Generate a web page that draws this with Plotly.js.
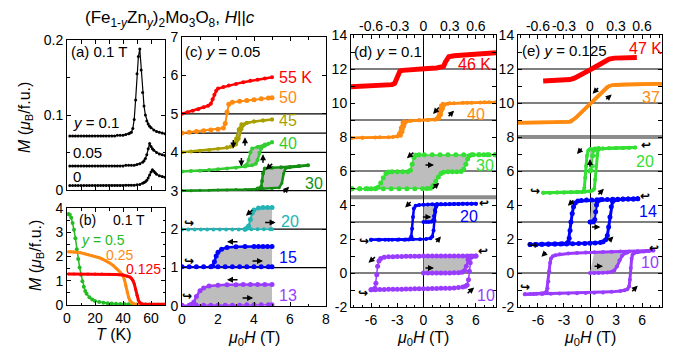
<!DOCTYPE html>
<html><head><meta charset="utf-8">
<script src="https://cdn.plot.ly/plotly-3.0.1.min.js"></script>
<style>html,body{margin:0;padding:0;background:#fff}#chart{width:684px;height:352px}</style>
</head><body><div id="chart"></div>
<script>
// ---------- panel (a): M(T) at 0.1 T ----------
const aT_y010=[2,4,6,8,10,12,14,16,18,20,22,24,26,28,30,32,34,36,38,40,42,44,45,46,47,48,49,50,51,52,53,54,55,56,57,58,59,60,62,64,66,68,70];
const aM_y010=[0.072,0.072,0.072,0.072,0.072,0.072,0.072,0.072,0.072,0.072,0.072,0.072,0.072,0.072,0.072,0.072,0.072,0.073,0.073,0.073,0.074,0.075,0.076,0.077,0.082,0.094,0.12,0.155,0.178,0.188,0.16,0.13,0.112,0.1,0.092,0.088,0.085,0.083,0.08,0.078,0.077,0.076,0.075];
const aT_y005=[2,4,6,8,10,12,14,16,18,20,22,24,26,28,30,32,34,36,38,40,42,44,46,48,50,52,54,55,56,57,58,59,60,61,62,64,66,68,70];
const aM_y005=[0.032,0.032,0.032,0.032,0.032,0.032,0.032,0.032,0.032,0.032,0.032,0.032,0.032,0.032,0.032,0.032,0.032,0.032,0.032,0.032,0.033,0.033,0.033,0.033,0.034,0.035,0.037,0.039,0.042,0.047,0.055,0.062,0.058,0.055,0.053,0.05,0.048,0.047,0.046];
const aT_y000=[2,4,6,8,10,12,14,16,18,20,22,24,26,28,30,32,34,36,38,40,42,44,46,48,50,52,54,55,56,57,58,59,60,61,62,63,64,66,68,70];
const aM_y000=[0.006,0.006,0.006,0.006,0.006,0.006,0.006,0.006,0.006,0.006,0.006,0.006,0.006,0.006,0.006,0.006,0.006,0.006,0.006,0.006,0.0065,0.0065,0.0065,0.0065,0.007,0.0075,0.009,0.01,0.011,0.013,0.016,0.02,0.024,0.027,0.025,0.023,0.021,0.019,0.018,0.017];
// ---------- panel (b): M(T) at 0.1 T ----------
const bT_y050=[1,2,3,4,5,6,7,8,9,10,11,12,13,14,16,18,20,23,26,29,32,35,38,41,44,47,50,53,56,59,62,65,68];
const bM_y050=[3.75,3.72,3.6,3.38,3.1,2.75,2.3,1.9,1.55,1.25,0.98,0.75,0.58,0.46,0.32,0.23,0.17,0.12,0.09,0.07,0.06,0.05,0.045,0.04,0.035,0.03,0.025,0.02,0.02,0.015,0.015,0.01,0.01];
const bT_y025=[1,3,5,7,10,13,15,18,20,23,25,28,30,33,35,36,37,38,39,40,41,42,43,44,45,46,47,48,50,52,55,60,65,70];
const bM_y025=[2.2,2.2,2.19,2.18,2.15,2.11,2.08,2.04,2.0,1.95,1.9,1.82,1.75,1.63,1.53,1.47,1.41,1.35,1.28,1.2,1.05,0.8,0.52,0.32,0.18,0.1,0.06,0.04,0.02,0.015,0.01,0.01,0.01,0.01];
const bT_y0125=[1,5,10,15,20,25,30,35,40,43,45,46,47,48,49,50,51,52,53,54,56,60,65,70];
const bM_y0125=[1.28,1.28,1.28,1.28,1.28,1.28,1.27,1.26,1.24,1.2,1.15,1.1,1.02,0.88,0.65,0.4,0.2,0.1,0.05,0.04,0.03,0.03,0.03,0.03];
// ---------- panel (c): y = 0.05, M(H) with offsets ----------
const c55H=[0,0.3,0.6,0.9,1.2,1.45,1.6,1.7,1.8,1.9,2.0,2.3,2.6,3.0,3.4,3.8,4.2,4.6,5.0];
const c55M=[5.0,5.04,5.08,5.12,5.17,5.21,5.26,5.38,5.5,5.6,5.66,5.7,5.74,5.78,5.82,5.86,5.89,5.92,5.95];
const c50H=[0,0.4,0.8,1.2,1.6,2.0,2.3,2.4,2.5,2.6,2.8,3.2,3.6,4.0,4.4,4.8,5.0];
const c50M=[4.5,4.52,4.54,4.56,4.58,4.6,4.63,4.75,5.05,5.25,5.3,5.33,5.35,5.37,5.39,5.41,5.42];
const c45uH=[0,0.5,1,1.5,2,2.5,2.8,3.0,3.15,3.3,3.45,3.6,4.0,4.5,5.0];
const c45uM=[4.0,4.02,4.04,4.06,4.09,4.12,4.15,4.2,4.35,4.6,4.72,4.76,4.8,4.83,4.85];
const c45dH=[5.0,4.5,4.0,3.6,3.3,3.15,3.0,2.9,2.7,2.5];
const c45dM=[4.85,4.83,4.8,4.77,4.73,4.6,4.35,4.2,4.15,4.13];
const c40uH=[0,0.5,1,1.5,2,2.5,3,3.5,3.9,4.1,4.2,4.3,4.4,4.6,4.8,5.0];
const c40uM=[3.5,3.51,3.52,3.54,3.56,3.58,3.6,3.63,3.66,3.7,3.8,3.98,4.1,4.17,4.22,4.26];
const c40dH=[5.0,4.6,4.2,3.9,3.8,3.7,3.6,3.5];
const c40dM=[4.26,4.2,4.14,4.1,4.0,3.8,3.68,3.64];
const c30uH=[0,0.5,1,1.5,2,2.5,3,3.5,4,4.5,5,5.4,5.55,5.65,5.75,6.0,6.5,7.0];
const c30uM=[3.0,3.0,3.01,3.01,3.02,3.02,3.03,3.03,3.04,3.05,3.06,3.08,3.2,3.45,3.58,3.61,3.63,3.66];
const c30dH=[7.0,6.5,6.0,5.5,5.0,4.6,4.5,4.45,4.4,4.2];
const c30dM=[3.66,3.64,3.62,3.61,3.6,3.58,3.45,3.25,3.1,3.06];
const c20uH=[0,0.35,0.7,1.05,1.4,1.75,2.1,2.45,2.8,3.15,3.5,3.85,4.2,4.55,4.9,5.0];
const c20uM=[1.99,1.99,1.99,1.99,1.99,1.99,1.99,1.99,1.99,1.99,1.99,2.0,2.0,2.0,2.0,2.0];
const c20dH=[5.0,4.75,4.5,4.25,4.0,3.9,3.8,3.7,3.6,3.5];
const c20dM=[2.56,2.56,2.56,2.55,2.5,2.42,2.25,2.08,2.02,2.0];
const c15uH=[0,0.4,0.8,1.2,1.6,2.0,2.4,2.8,3.2,3.6,4.0,4.4,4.8,5.0];
const c15uM=[1.02,1.02,1.02,1.02,1.02,1.02,1.02,1.02,1.02,1.02,1.02,1.02,1.02,1.02];
const c15dH=[5.0,4.75,4.5,4.25,4.0,3.5,3.0,2.5,2.2,2.0,1.9,1.8,1.7];
const c15dM=[1.55,1.55,1.55,1.55,1.55,1.55,1.54,1.52,1.48,1.4,1.3,1.15,1.04];
const c13uH=[0,0.4,0.8,1.2,1.6,2.0,2.4,2.8,3.2,3.6,4.0,4.4,4.8,5.0];
const c13uM=[0.02,0.02,0.02,0.02,0.02,0.02,0.02,0.02,0.02,0.03,0.03,0.03,0.03,0.03];
const c13dH=[5.0,4.6,4.2,3.8,3.4,3.0,2.5,2.0,1.5,1.2,1.0,0.8,0.65,0.5];
const c13dM=[0.56,0.56,0.56,0.56,0.56,0.55,0.55,0.54,0.52,0.47,0.4,0.25,0.1,0.04];
// ---------- panel (d): y = 0.1 ----------
const d46X=[-0.83,-0.7,-0.55,-0.45,-0.36,-0.33,-0.31,-0.29,-0.27,-0.24,-0.15,-0.05,0.05,0.15,0.21,0.23,0.25,0.27,0.29,0.35,0.45,0.55,0.65,0.75,0.83];
const d46M=[10.95,10.98,11.02,11.05,11.08,11.15,11.4,11.7,11.88,11.92,11.97,12.0,12.03,12.06,12.08,12.15,12.4,12.62,12.72,12.78,12.83,12.87,12.9,12.93,12.95];
const d40uX=[-0.83,-0.7,-0.55,-0.4,-0.3,-0.26,-0.24,-0.22,-0.2,-0.15,-0.05,0.05,0.15,0.18,0.2,0.22,0.24,0.28,0.35,0.45,0.55,0.65,0.75,0.83];
const d40uM=[7.94,7.95,7.97,7.99,8.03,8.08,8.3,8.65,8.88,8.95,8.98,9.0,9.04,9.08,9.3,9.65,9.88,9.96,9.99,10.01,10.02,10.03,10.04,10.05];
const d40dX=[0.83,0.7,0.5,0.3,0.22,0.2,0.18,0.16,0.13,0.05,-0.05,-0.15,-0.22,-0.24,-0.26,-0.28,-0.3,-0.35,-0.5,-0.7,-0.83];
const d40dM=[10.05,10.04,10.02,9.99,9.96,9.85,9.5,9.15,9.02,9.0,8.98,8.95,8.92,8.85,8.55,8.2,8.05,8.0,7.98,7.95,7.94];
const d30uH=[-8.2,-7.3,-6.4,-5.5,-4.6,-3.7,-2.8,-1.9,-1.0,-0.1,0.4,0.8,1.1,1.4,1.7,2.0,2.3,2.8,3.3,3.8,4.3,4.6,4.85,5.05,5.25,5.7,6.3,6.9,7.5,8.2];
const d30uM=[4.95,4.95,4.95,4.95,4.95,4.95,4.95,4.96,4.96,4.96,4.97,4.99,5.15,5.4,5.65,5.85,5.93,5.95,5.95,5.95,5.97,6.1,6.4,6.7,6.9,6.95,6.95,6.95,6.95,6.95];
const d30dH=[8.2,7.3,6.4,5.5,4.6,3.7,2.8,1.9,1.0,0.1,-0.5,-0.9,-1.1,-1.3,-1.5,-1.8,-2.4,-3.0,-3.6,-4.0,-4.3,-4.6,-4.9,-5.2,-5.5,-6.0,-6.6,-7.3,-8.2];
const d30dM=[6.95,6.95,6.95,6.95,6.95,6.95,6.95,6.95,6.95,6.95,6.95,6.93,6.8,6.4,6.05,5.96,5.95,5.95,5.95,5.94,5.85,5.6,5.3,5.05,4.97,4.95,4.95,4.95,4.95];
const d20vH=[0,0.3,0.6,0.9,1.1,1.2,1.3,1.4,1.6];
const d20vM=[3.0,3.0,3.0,3.02,3.1,3.35,3.7,3.95,4.05];
const d20uH=[-6.0,-5.2,-4.4,-3.6,-2.8,-2.0,-1.2,-0.4,0.3,0.8,1.0,1.15,1.25,1.35,1.45,1.6,2.0,2.5,3.0,3.5,4.0,4.5,5.0,5.5,6.0];
const d20uM=[1.95,1.95,1.96,1.96,1.97,1.97,1.98,1.99,2.0,2.05,2.15,2.5,3.1,3.6,3.9,4.02,4.04,4.05,4.05,4.06,4.06,4.07,4.07,4.08,4.08];
const d20dH=[6.0,5.5,5.0,4.5,4.0,3.5,3.0,2.5,2.0,1.5,1.0,0.5,0.0,-0.5,-0.9,-1.1,-1.2,-1.3,-1.4,-1.5,-1.7,-2.2,-3.0,-4.0,-5.0,-6.0];
const d20dM=[4.08,4.08,4.07,4.07,4.06,4.06,4.06,4.05,4.05,4.05,4.04,4.03,4.02,4.0,3.95,3.8,3.3,2.6,2.15,2.0,1.97,1.96,1.96,1.95,1.95,1.95];
const d10vH=[0,0.5,1,1.5,2,2.5,3,3.5,4,4.4,4.7,4.9,5.1,5.3];
const d10vM=[0,0,0,0,0,0,0,0.01,0.02,0.05,0.15,0.4,0.8,0.98];
const d10uH=[-6.0,-5.5,-5,-4.5,-4,-3.5,-3,-2.5,-2,-1.5,-1,-0.5,0,0.5,1,1.5,2,2.5,3,3.5,4,4.5,4.8,5.0,5.15,5.25,5.35,5.45,5.7,6.0];
const d10uM=[-0.98,-0.98,-0.97,-0.97,-0.96,-0.96,-0.95,-0.95,-0.94,-0.94,-0.93,-0.93,-0.92,-0.92,-0.91,-0.91,-0.9,-0.9,-0.89,-0.88,-0.86,-0.83,-0.78,-0.7,-0.4,0.1,0.6,0.92,0.98,1.0];
const d10dH=[6.0,5.5,5,4.5,4,3.5,3,2.5,2,1.5,1,0.5,0,-0.5,-1,-1.5,-2,-2.5,-3,-3.5,-4,-4.5,-4.9,-5.1,-5.25,-5.35,-5.45,-5.55,-5.7,-6.0];
const d10dM=[1.0,1.0,1.0,1.0,1.0,1.0,1.0,1.0,1.0,1.0,1.0,1.0,1.0,0.99,0.99,0.98,0.98,0.97,0.97,0.96,0.95,0.92,0.85,0.7,0.4,-0.1,-0.6,-0.9,-0.96,-0.98];
// ---------- panel (e): y = 0.125 ----------
const e47X=[-0.54,-0.45,-0.35,-0.28,-0.23,-0.18,-0.12,-0.06,0,0.06,0.12,0.17,0.22,0.28,0.35,0.45,0.54];
const e47M=[11.3,11.31,11.33,11.35,11.38,11.46,11.6,11.78,11.95,12.12,12.3,12.46,12.58,12.64,12.66,12.67,12.68];
const e37uX=[-0.83,-0.7,-0.55,-0.4,-0.3,-0.22,-0.15,-0.08,0,0.08,0.15,0.22,0.26,0.3,0.4,0.55,0.7,0.83];
const e37uM=[8.84,8.85,8.86,8.87,8.88,8.9,9.2,9.55,9.95,10.35,10.7,11.0,11.05,11.08,11.1,11.11,11.12,11.13];
const e37dX=[0.83,0.7,0.55,0.4,0.3,0.25,0.2,0.13,0.05,-0.03,-0.1,-0.17,-0.24,-0.28,-0.4,-0.55,-0.7,-0.83];
const e37dM=[11.13,11.12,11.11,11.1,11.08,11.05,10.95,10.6,10.2,9.8,9.45,9.1,8.9,8.88,8.87,8.86,8.85,8.84];
const e20vH=[0,0.1,0.2,0.3,0.4,0.6,1.0];
const e20vM=[6.0,6.05,6.3,6.9,7.2,7.3,7.33];
const e20uH=[-5.4,-4.6,-3.8,-3.0,-2.2,-1.4,-0.6,0,0.3,0.5,0.6,0.7,0.8,0.9,1.0,1.5,2.2,3.0,3.8,4.5,5.2];
const e20uM=[4.72,4.72,4.73,4.74,4.75,4.76,4.78,4.8,4.85,4.95,5.5,6.3,6.9,7.2,7.3,7.33,7.34,7.35,7.36,7.37,7.38];
const e20dH=[5.2,4.5,3.8,3.0,2.2,1.5,1.0,0.5,0,-0.2,-0.35,-0.45,-0.55,-0.65,-0.75,-0.9,-1.5,-2.2,-3.0,-3.8,-4.6,-5.4];
const e20dM=[7.38,7.37,7.36,7.35,7.34,7.33,7.32,7.31,7.3,7.2,6.9,6.3,5.6,5.0,4.82,4.77,4.76,4.75,4.74,4.73,4.72,4.72];
const e14vH=[0,0.2,0.4,0.55,0.65,0.75,0.85,1.0,1.2];
const e14vM=[3.0,3.0,3.02,3.15,3.6,4.0,4.2,4.28,4.31];
const e14uH=[-6.9,-6.2,-5.5,-4.8,-4.1,-3.4,-2.7,-2.0,-1.3,-0.6,0,0.6,1.2,1.5,1.8,2.0,2.15,2.3,2.45,2.6,2.8,3.2,3.8,4.4,5.0,5.5];
const e14uM=[1.68,1.68,1.69,1.69,1.7,1.7,1.71,1.72,1.73,1.74,1.75,1.77,1.8,1.84,1.95,2.2,2.7,3.3,3.9,4.2,4.3,4.33,4.34,4.35,4.36,4.37];
const e14dH=[5.5,5.0,4.4,3.8,3.2,2.6,2.0,1.4,0.8,0.2,-0.4,-1.0,-1.4,-1.7,-1.9,-2.05,-2.2,-2.3,-2.4,-2.5,-2.7,-3.2,-4.0,-4.8,-5.6,-6.3,-6.9];
const e14dM=[4.37,4.36,4.35,4.35,4.34,4.34,4.33,4.32,4.31,4.3,4.29,4.27,4.23,4.12,3.9,3.5,3.0,2.5,2.05,1.82,1.74,1.72,1.71,1.7,1.69,1.68,1.68];
const e10vH=[0,0.5,1.0,1.5,2.0,2.5,2.8,3.1,3.4,3.7,4.0,4.3];
const e10vM=[0,0,0,0.01,0.03,0.07,0.15,0.38,0.75,1.02,1.15,1.2];
const e10uH=[-7.5,-6.5,-5.5,-4.5,-3.5,-2.5,-1.5,-0.5,0.5,1.5,2.5,3.5,4.0,4.3,4.5,4.6,4.7,4.8,4.9,5.1,5.5,6.2,6.8,7.3];
const e10uM=[-1.25,-1.24,-1.23,-1.22,-1.21,-1.2,-1.19,-1.18,-1.16,-1.14,-1.11,-1.06,-1.02,-0.95,-0.8,-0.4,0.3,0.85,1.08,1.18,1.22,1.26,1.29,1.32];
const e10dH=[7.3,6.5,5.5,4.5,3.5,2.5,1.5,0.5,-0.5,-1.5,-2.5,-3.5,-4.0,-4.3,-4.5,-4.6,-4.7,-4.8,-4.9,-5.0,-5.2,-5.6,-6.2,-6.9,-7.5];
const e10dM=[1.32,1.3,1.28,1.27,1.26,1.25,1.24,1.22,1.2,1.18,1.15,1.1,1.05,0.98,0.85,0.6,0.1,-0.5,-0.9,-1.08,-1.16,-1.2,-1.22,-1.24,-1.25];
// baselines / separators
const cBase=[5,4.5,4,3.5,3,2,1];
const dBase=[12,9,6,3,0];
const eBase=[12,10,6,3,0];
const dSep=[4.45];
const eSep=[8];
// tick labels
const hTicks=[-6,-3,0,3,6], hTickText=['-6','-3','0','3','6'];
const h2Ticks=[-0.6,-0.3,0,0.3,0.6], h2TickText=['-0.6','-0.3','0','0.3','0.6'];
const mTicks=[-2,0,2,4,6,8,10,12,14], mTickText=['-2','0','2','4','6','8','10','12','14'];

// ---------- drawing ----------
const W=684,HH=352;
const px=x=>x/W, py=y=>1-y/HH;
const FONT='Arial, "Liberation Sans", sans-serif';
const C={red:'#ff0000',orange:'#ff8a10',olive:'#a8a000',green:'#33cc33',dgreen:'#138f13',cyan:'#22b4b4',blue:'#0000ff',purple:'#9a3cff',lgreen:'#33e033',bgreen:'#22bb22',gray:'#bdbdbd'};
const traces=[];
function curve(xa,ya,X,Y,color,w,ms){
  traces.push({type:'scatter',mode:ms?'lines+markers':'lines',x:X,y:Y,xaxis:xa,yaxis:ya,
    line:{color:color,width:w},marker:{color:color,size:ms||0},hoverinfo:'skip',showlegend:false,cliponaxis:true});
}
function poly(xa,ya,uH,uM,dH,dM){
  const lo=Math.max(Math.min(...uH),Math.min(...dH)), hi=Math.min(Math.max(...uH),Math.max(...dH));
  const X=[],Y=[];
  uH.forEach((h,i)=>{if(h>=lo-1e-9&&h<=hi+1e-9){X.push(h);Y.push(uM[i]);}});
  dH.forEach((h,i)=>{if(h>=lo-1e-9&&h<=hi+1e-9){X.push(h);Y.push(dM[i]);}});
  traces.push({type:'scatter',mode:'none',x:X,y:Y,xaxis:xa,yaxis:ya,fill:'toself',fillcolor:C.gray,hoverinfo:'skip',showlegend:false});
}
// fills
poly('x3','y3',c45uH,c45uM,c45dH,c45dM);
poly('x3','y3',c40uH,c40uM,c40dH,c40dM);
poly('x3','y3',c30uH,c30uM,c30dH,c30dM);
poly('x3','y3',c20uH,c20uM,c20dH,c20dM);
poly('x3','y3',c15uH,c15uM,c15dH,c15dM);
poly('x3','y3',c13uH,c13uM,c13dH,c13dM);
poly('x5','y4',d40uX,d40uM,d40dX,d40dM);
poly('x4','y4',d30uH,d30uM,d30dH,d30dM);
poly('x4','y4',d20vH,d20vM,d20dH,d20dM);
poly('x4','y4',d10vH,d10vM,d10dH,d10dM);
poly('x7','y5',e37uX,e37uM,e37dX,e37dM);
poly('x6','y5',e20vH,e20vM,e20dH,e20dM);
poly('x6','y5',e14vH,e14vM,e14dH,e14dM);
poly('x6','y5',e10vH,e10vM,e10dH,e10dM);
// (a)
curve('x','y',aT_y010,aM_y010,'#000',1.2,3);
curve('x','y',aT_y005,aM_y005,'#000',1.2,3);
curve('x','y',aT_y000,aM_y000,'#000',1.2,3);
// (b)
curve('x2','y2',bT_y050,bM_y050,C.bgreen,1.5,4);
curve('x2','y2',bT_y025,bM_y025,C.orange,3,3);
curve('x2','y2',bT_y0125,bM_y0125,C.red,3,3);
// (c)
curve('x3','y3',c55H,c55M,C.red,2.5,4);
curve('x3','y3',c50H,c50M,C.orange,2,5);
curve('x3','y3',c45uH,c45uM,C.olive,2.5,4);
curve('x3','y3',c45dH,c45dM,C.olive,2,4);
curve('x3','y3',c40uH,c40uM,C.green,2.5,4);
curve('x3','y3',c40dH,c40dM,C.green,2,4);
curve('x3','y3',c30uH,c30uM,C.dgreen,2.5,3);
curve('x3','y3',c30dH,c30dM,C.dgreen,2.5,4);
curve('x3','y3',c20uH,c20uM,C.cyan,1.5,4);
curve('x3','y3',c20dH,c20dM,C.cyan,2,5);
curve('x3','y3',c15uH,c15uM,C.blue,1.5,5);
curve('x3','y3',c15dH,c15dM,C.blue,2.5,5);
curve('x3','y3',c13uH,c13uM,C.purple,1.5,5);
curve('x3','y3',c13dH,c13dM,C.purple,2.5,5);
// (d)
curve('x5','y4',d46X,d46M,C.red,5,0);
curve('x5','y4',d40uX,d40uM,C.orange,2.5,4);
curve('x5','y4',d40dX,d40dM,C.orange,2.5,4);
curve('x4','y4',d30uH,d30uM,C.lgreen,1.5,5);
curve('x4','y4',d30dH,d30dM,C.lgreen,1.5,5);
curve('x4','y4',d20vH,d20vM,C.blue,2,4);
curve('x4','y4',d20uH,d20uM,C.blue,2.5,4);
curve('x4','y4',d20dH,d20dM,C.blue,2.5,4);
curve('x4','y4',d10vH,d10vM,C.purple,2,5);
curve('x4','y4',d10uH,d10uM,C.purple,1.5,5);
curve('x4','y4',d10dH,d10dM,C.purple,1.5,5);
// (e)
curve('x7','y5',e47X,e47M,C.red,5,0);
curve('x7','y5',e37uX,e37uM,C.orange,3.5,0);
curve('x7','y5',e37dX,e37dM,C.orange,3.5,0);
curve('x6','y5',e20vH,e20vM,C.lgreen,1.5,5);
curve('x6','y5',e20uH,e20uM,C.lgreen,3,4);
curve('x6','y5',e20dH,e20dM,C.lgreen,3,4);
curve('x6','y5',e14vH,e14vM,C.blue,2,5);
curve('x6','y5',e14uH,e14uM,C.blue,3,5);
curve('x6','y5',e14dH,e14dM,C.blue,3,5);
curve('x6','y5',e10vH,e10vM,C.purple,3,4);
curve('x6','y5',e10uH,e10uM,C.purple,3,4);
curve('x6','y5',e10dH,e10dM,C.purple,3,4);

// shapes: baselines
const shapes=[];
function hline(xa,ya,v,color,w){shapes.push({type:'line',xref:xa+' domain',yref:ya,x0:0,x1:1,y0:v,y1:v,line:{color:color,width:w},layer:'below'});}
cBase.forEach(v=>hline('x3','y3',v,'#000',1.2));
dBase.forEach(v=>hline('x4','y4',v,'#000',1.2));
eBase.forEach(v=>hline('x6','y5',v,'#000',1.2));
dSep.forEach(v=>hline('x4','y4',v,'#8c8c8c',4));
eSep.forEach(v=>hline('x6','y5',v,'#8c8c8c',4));

// annotations
const ann=[];
function t(xref,yref,x,y,text,color,size,xanchor){ann.push({xref,yref,x,y,text,showarrow:false,font:{family:FONT,size:size||16,color:color||'#000'},xanchor:xanchor||'left',yanchor:'middle'});}
function tp(x,y,text,color,size,xanchor){t('paper','paper',px(x),py(y),text,color,size,xanchor);}
function arr(xref,yref,x,y,ax,ay){ann.push({xref,yref,x,y,ax,ay,axref:'pixel',ayref:'pixel',text:'',showarrow:true,arrowhead:2,arrowsize:0.8,arrowwidth:1.5,arrowcolor:'#000',standoff:0});}
function hook(xref,yref,x,y,g){ann.push({xref,yref,x,y,text:'<b>'+g+'</b>',showarrow:false,font:{family:'DejaVu Sans',size:12,color:'#000'},xanchor:'center',yanchor:'middle'});}
// title & axis labels
tp(170,19,'(Fe<sub>1-<i>y</i></sub>Zn<sub><i>y</i></sub>)<sub>2</sub>Mo<sub>3</sub>O<sub>8</sub>, <i>H</i>||<i>c</i>','#000',17,'center');
ann.push({xref:'paper',yref:'paper',x:px(25),y:py(118),text:'<i>M</i> (<i>μ</i><sub>B</sub>/f.u.)',textangle:-90,showarrow:false,font:{family:FONT,size:16,color:'#000'},xanchor:'center',yanchor:'middle'});
ann.push({xref:'paper',yref:'paper',x:px(36),y:py(256),text:'<i>M</i> (<i>μ</i><sub>B</sub>/f.u.)',textangle:-90,showarrow:false,font:{family:FONT,size:16,color:'#000'},xanchor:'center',yanchor:'middle'});
tp(114,334,'<i>T</i> (K)','#000',16,'center');
tp(254,338,'<i>μ</i><sub>0</sub><i>H</i> (T)','#000',16,'center');
tp(423,338,'<i>μ</i><sub>0</sub><i>H</i> (T)','#000',16,'center');
tp(590,338,'<i>μ</i><sub>0</sub><i>H</i> (T)','#000',16,'center');
// panel texts
tp(69,52,'(a) 0.1 T','#000',15);
tp(71,122,'<i>y</i> = 0.1','#000',15);
tp(71,152,'0.05','#000',15);
tp(71,176,'0','#000',15);
tp(77,220,'(b)','#000',14);
tp(111,220,'0.1 T','#000',14);
tp(79,240,'<i>y</i> = 0.5',C.bgreen,14);
tp(104,255,'0.25',C.orange,14);
tp(124,269,'0.125',C.red,14);
tp(183,52,'(c) <i>y</i> = 0.05','#000',15);
tp(352,52,'(d) <i>y</i> = 0.1','#000',15);
tp(520,50,'(e) <i>y</i> = 0.125','#000',15);
// temperature labels
t('x3','y3',5.3,5.95,'55 K',C.red);
t('x3','y3',5.3,5.43,'50',C.orange);
t('x3','y3',5.3,4.83,'45',C.olive);
t('x3','y3',5.3,4.23,'40',C.green);
t('x3','y3',6.7,3.2,'30',C.dgreen);
t('x3','y3',5.4,2.2,'20',C.cyan);
t('x3','y3',5.3,1.25,'15',C.blue);
t('x3','y3',5.3,0.27,'13',C.purple);
t('x5','y4',0.37,12.25,'46 K',C.red);
t('x5','y4',0.48,9.3,'40',C.orange);
t('x4','y4',5.8,6.35,'30',C.lgreen);
t('x4','y4',4.0,3.35,'20',C.blue);
t('x4','y4',5.9,-1.35,'10',C.purple);
t('x7','y5',0.43,13.2,'47 K',C.red);
t('x7','y5',0.58,10.35,'37',C.orange);
t('x6','y5',5.1,6.55,'20',C.lgreen);
t('x6','y5',5.4,3.6,'14',C.blue);
t('x6','y5',5.7,0.6,'10',C.purple);
// sweep arrows
[[2.85,4.1,0,-10],[3.5,4.39,0,10],[3.3,3.63,0,-10],[4.5,3.95,0,10],[4.65,3.55,8,-7],[5.95,3.1,-7,7],[3.55,2.35,8,-7],[5.2,2.17,-12,0],[2.5,1.67,12,0],[4.5,1.17,-12,0],[2.5,0.68,12,0],[3.95,0.21,-12,0]].forEach(a=>arr('x3','y3',...a));
[[0.11,9.35,7,-8],[0.35,9.55,-7,7]].forEach(a=>arr('x5','y4',...a));
[[-1.9,6.75,8,-7],[1.2,6.35,-10,0],[1.8,5.3,-8,7],[-2.1,3.85,7,-7],[0.9,3.3,-10,0],[2.0,2.15,-6,7],[-6.3,0.6,8,-7],[1.2,0.3,-10,0],[5.8,-0.85,-8,7]].forEach(a=>arr('x4','y4',...a));
[[0.03,10.55,7,-7],[0.25,10.5,-7,6]].forEach(a=>arr('x7','y5',...a));
[[-1.5,7.0,6,-7],[0.0,6.7,0,9],[1.6,4.95,-7,7],[-2.55,3.95,7,-7],[1.2,2.7,-10,0],[-5.6,0.95,6,-6],[2.7,2.15,-6,6],[1.5,0.4,-10,0],[5.5,-0.75,-7,7]].forEach(a=>arr('x6','y5',...a));
// hooks
[[0.4,2.15],[0.4,1.17],[0.3,0.27]].forEach(h=>hook('x3','y3',h[0],h[1],'↪'));
[[6.9,4.1,'↩'],[-6.8,1.9,'↪'],[6.8,1.3,'↩'],[-6.9,-1.2,'↪']].forEach(h=>hook('x4','y4',h[0],h[1],h[2]));
[[6.5,7.5,'↩'],[-6.3,4.8,'↪'],[6.3,4.5,'↩'],[-6.6,1.65,'↪'],[7.4,1.45,'↩'],[-7.5,-0.85,'↪']].forEach(h=>hook('x6','y5',h[0],h[1],h[2]));

function ax(o){return Object.assign({showline:true,linecolor:'#000',linewidth:1,mirror:'allticks',ticks:'inside',ticklen:4,tickcolor:'#000',tickwidth:1,showgrid:false,zeroline:false,tickangle:0,tickfont:{family:FONT,size:14,color:'#000'},fixedrange:true},o);}
const mn=(d)=>({tickmode:'linear',tick0:0,dtick:d,ticks:'inside',ticklen:2.5,tickcolor:'#000',showgrid:false});
const yD=[py(307),py(35)];
const layout={
  width:W,height:HH,margin:{l:0,r:0,t:0,b:0},paper_bgcolor:'#fff',plot_bgcolor:'rgba(0,0,0,0)',showlegend:false,
  xaxis:ax({domain:[px(67),px(165)],anchor:'y',range:[0,70],dtick:10,showticklabels:false}),
  yaxis:ax({domain:[py(190),py(40)],anchor:'x',range:[0,0.2],dtick:0.1,minor:mn(0.05)}),
  xaxis2:ax({domain:[px(67),px(165)],anchor:'y2',range:[0,70],dtick:20,minor:mn(10)}),
  yaxis2:ax({domain:[py(305),py(208)],anchor:'x2',range:[0,4],dtick:1,minor:mn(0.5)}),
  xaxis3:ax({domain:[px(182),px(326)],anchor:'y3',range:[0,8],dtick:2,minor:mn(1)}),
  yaxis3:ax({domain:[py(306),py(37)],anchor:'x3',range:[0,7],dtick:1}),
  xaxis4:ax({domain:[px(351),px(496)],anchor:'y4',range:[-8.3,8.3],tickmode:'array',tickvals:hTicks,ticktext:hTickText,minor:mn(1),mirror:true,zeroline:true,zerolinecolor:'#000',zerolinewidth:1}),
  xaxis5:ax({overlaying:'x4',side:'top',anchor:'y4',range:[-0.83,0.83],tickmode:'array',tickvals:h2Ticks,ticktext:h2TickText,minor:mn(0.1),showline:false,mirror:false}),
  yaxis4:ax({domain:yD,anchor:'x4',range:[-2,14],tickmode:'array',tickvals:mTicks,ticktext:mTickText,minor:mn(1)}),
  xaxis6:ax({domain:[px(518),px(662)],anchor:'y5',range:[-8.3,8.3],tickmode:'array',tickvals:hTicks,ticktext:hTickText,minor:mn(1),mirror:true,zeroline:true,zerolinecolor:'#000',zerolinewidth:1}),
  xaxis7:ax({overlaying:'x6',side:'top',anchor:'y5',range:[-0.83,0.83],tickmode:'array',tickvals:h2Ticks,ticktext:h2TickText,minor:mn(0.1),showline:false,mirror:false}),
  yaxis5:ax({domain:yD,anchor:'x6',range:[-2,14],tickmode:'array',tickvals:mTicks,ticktext:mTickText,minor:mn(1)}),
  shapes:shapes,annotations:ann
};
Plotly.newPlot('chart',traces,layout,{staticPlot:true,displayModeBar:false});
</script></body></html>
